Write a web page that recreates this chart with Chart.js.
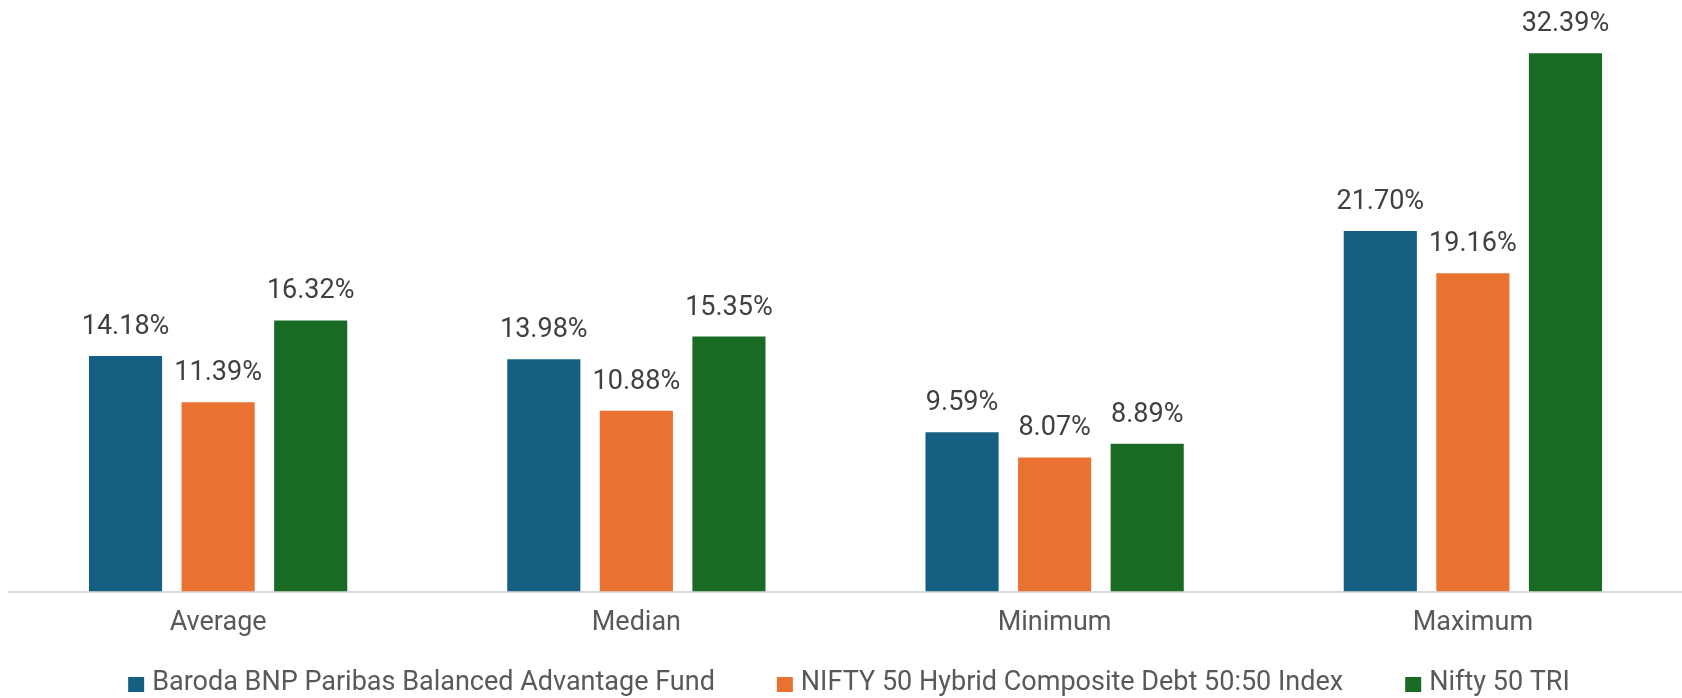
<!DOCTYPE html>
<html>
<head>
<meta charset="utf-8">
<script src="https://cdn.jsdelivr.net/npm/chart.js@4.4.1/dist/chart.umd.min.js"></script>
<style>
  html, body { margin: 0; padding: 0; background: #ffffff; }
  #wrap { width: 1682px; height: 698px; position: relative; }
</style>
</head>
<body>
<div id="wrap"><canvas id="c" width="1682" height="698"></canvas></div>
<script>
const categories = ['Average', 'Median', 'Minimum', 'Maximum'];
const seriesNames = [
  'Baroda BNP Paribas Balanced Advantage Fund',
  'NIFTY 50 Hybrid Composite Debt 50:50 Index',
  'Nifty 50 TRI'
];
const fundValues = [14.18, 13.98, 9.59, 21.70];
const hybridValues = [11.39, 10.88, 8.07, 19.16];
const niftyValues = [16.32, 15.35, 8.89, 32.39];
const seriesColors = ['#156082', '#E97132', '#196B24'];

const FONT = 'Roboto, "Noto Sans", "DejaVu Sans", sans-serif';

// value labels above each bar
const valueLabels = {
  id: 'valueLabels',
  afterDatasetsDraw(chart) {
    const ctx = chart.ctx;
    ctx.save();
    ctx.font = '27px ' + FONT;
    ctx.fillStyle = '#404040';
    ctx.textAlign = 'center';
    ctx.textBaseline = 'alphabetic';
    chart.data.datasets.forEach((ds, i) => {
      const meta = chart.getDatasetMeta(i);
      meta.data.forEach((bar, j) => {
        ctx.fillText(ds.data[j].toFixed(2) + '%', bar.x, bar.y - 22);
      });
    });
    ctx.restore();
  }
};

// legend drawn under the axis (square swatch + text, evenly spaced, centred)
const bottomLegend = {
  id: 'bottomLegend',
  afterDraw(chart) {
    const ctx = chart.ctx;
    const boxW = 16, boxH = 15, textGap = 8, itemGap = 62;
    ctx.save();
    ctx.font = '27px ' + FONT;
    ctx.textBaseline = 'alphabetic';
    ctx.textAlign = 'left';
    const items = chart.data.datasets.map(ds => ({
      text: ds.label, color: ds.backgroundColor,
      w: boxW + textGap + ctx.measureText(ds.label).width
    }));
    const total = items.reduce((s, it) => s + it.w, 0) + itemGap * (items.length - 1);
    let x = (chart.width - total) / 2 + 8;
    const baseline = chart.height - 8;
    items.forEach(it => {
      ctx.fillStyle = it.color;
      ctx.fillRect(x, baseline - 13, boxW, boxH);
      ctx.fillStyle = '#595959';
      ctx.fillText(it.text, x + boxW + textGap, baseline);
      x += it.w + itemGap;
    });
    ctx.restore();
  }
};

new Chart(document.getElementById('c'), {
  type: 'bar',
  data: {
    labels: categories,
    datasets: [
      { label: seriesNames[0], data: fundValues, backgroundColor: seriesColors[0] },
      { label: seriesNames[1], data: hybridValues, backgroundColor: seriesColors[1] },
      { label: seriesNames[2], data: niftyValues, backgroundColor: seriesColors[2] }
    ]
  },
  options: {
    responsive: false,
    animation: false,
    devicePixelRatio: 1,
    layout: { padding: { left: 9, right: 0, top: 10, bottom: 52 } },
    datasets: { bar: { categoryPercentage: 0.664, barPercentage: 0.79 } },
    scales: {
      x: {
        grid: { display: false },
        border: { display: true, color: '#d9d9d9', width: 2 },
        ticks: { color: '#595959', font: { family: FONT, size: 27 }, padding: 7 }
      },
      y: { display: false, min: 0, max: 35 }
    },
    plugins: {
      legend: { display: false },
      tooltip: { enabled: false }
    }
  },
  plugins: [valueLabels, bottomLegend]
});
</script>
</body>
</html>
